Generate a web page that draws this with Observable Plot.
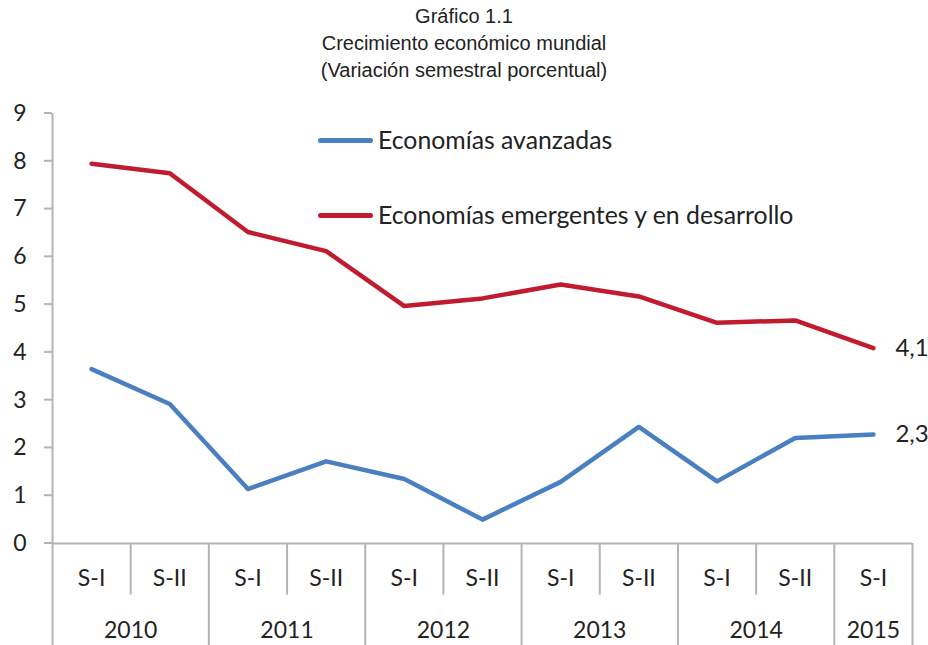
<!DOCTYPE html>
<html>
<head>
<meta charset="utf-8">
<script src="https://cdn.jsdelivr.net/npm/d3@7"></script>
<script src="https://cdn.jsdelivr.net/npm/@observablehq/plot@0.6"></script>
<style>
  html, body { margin: 0; padding: 0; background: #fff; }
  #wrap { position: relative; width: 928px; height: 645px; }
  #title { position: absolute; left: 0; top: 3px; width: 928px; text-align: center;
           font-family: "Liberation Sans", Arial, sans-serif; font-size: 20px; line-height: 27px; color: #222; }
  #chart { position: absolute; left: 0; top: 90px; }
  .leg { position: absolute; left: 318px; height: 30px; line-height: 30px; font-family: Lato, sans-serif; font-size: 24.8px; color: #222; display: flex; align-items: center; }
  .leg span.sw { display: inline-block; width: 55px; height: 5px; border-radius: 3px; margin-right: 5px; }
</style>
</head>
<body>
<div id="wrap">
  <div id="title">Gráfico 1.1<br>Crecimiento económico mundial<br>(Variación semestral porcentual)</div>
  <div id="chart"></div>
  <div class="leg" style="top:125px"><span class="sw" style="background:#4a7fc1"></span>Economías avanzadas</div>
  <div class="leg" style="top:200px"><span class="sw" style="background:#c01b2e"></span>Economías emergentes y en desarrollo</div>
</div>
<script>
const semesters = ["S-I","S-II","S-I","S-II","S-I","S-II","S-I","S-II","S-I","S-II","S-I"];
const years = ["2010","2010","2011","2011","2012","2012","2013","2013","2014","2014","2015"];
const advanced = [3.65, 2.92, 1.14, 1.72, 1.35, 0.50, 1.29, 2.44, 1.30, 2.21, 2.28];
const emerging = [7.95, 7.75, 6.52, 6.12, 4.97, 5.13, 5.42, 5.17, 4.62, 4.67, 4.09];
const endLabels = ["2,3", "4,1"];
const seriesNames = ["Economías avanzadas", "Economías emergentes y en desarrollo"];
const colors = ["#4a7fc1", "#c01b2e"];
const yTicks = [0,1,2,3,4,5,6,7,8,9];

const data = [];
semesters.forEach((s, i) => {
  data.push({i, v: advanced[i], series: seriesNames[0]});
  data.push({i, v: emerging[i], series: seriesNames[1]});
});
const n = semesters.length;
const last = [
  {i: n - 1, v: advanced[n - 1], label: endLabels[0]},
  {i: n - 1, v: emerging[n - 1], label: endLabels[1]}
];

const yearGroups = [];
years.forEach((y, i) => {
  const g = yearGroups.find(d => d.year === y);
  if (g) g.end = i; else yearGroups.push({year: y, start: i, end: i});
});
const yearBounds = [-0.5, ...yearGroups.map(g => g.end + 0.5)];
const innerBounds = [];
for (let i = 0; i < n - 1; i++) if (years[i] === years[i + 1]) innerBounds.push(i + 0.5);

const axisColor = "#b4b4b4";
const chart = Plot.plot({
  width: 928,
  height: 555,
  marginTop: 23,
  marginBottom: 102,
  marginLeft: 52,
  marginRight: 16,
  style: {fontFamily: "Lato, sans-serif", fontSize: "23px", color: "#222", background: "#fff", overflow: "visible"},
  x: {domain: [-0.5, n - 0.5], axis: null},
  y: {domain: [0, 9], ticks: yTicks, label: null, tickSize: 0},
  color: {domain: seriesNames, range: colors},
  marks: [
    Plot.axisY({ticks: yTicks, tickSize: 0, tickPadding: 26, label: null, fontSize: 23}),
    Plot.tickY(yTicks, {y: d => d,
      render: (index, scales, values, dims) => {
        const g = d3.create("svg:g");
        const x0 = dims.marginLeft;
        g.selectAll("line").data(index).join("line")
          .attr("x1", x0 - 8).attr("x2", x0).attr("y1", i => scales.y(yTicks[i])).attr("y2", i => scales.y(yTicks[i]))
          .attr("stroke", axisColor).attr("stroke-width", 2);
        return g.node();
      }}),
    Plot.ruleX([-0.5], {y1: 0, y2: 9, stroke: axisColor, strokeWidth: 2}),
    Plot.ruleY([0], {x1: -0.5, x2: n - 0.5, stroke: axisColor, strokeWidth: 2}),
    Plot.ruleX(yearBounds, {x: d => d, y1: 0, y2: -2.2, stroke: axisColor, strokeWidth: 2}),
    Plot.ruleX(innerBounds, {x: d => d, y1: 0, y2: -1.08, stroke: axisColor, strokeWidth: 2}),
    Plot.text(semesters, {x: (d, i) => i, y: -0.73, text: d => d, fontSize: 23, fill: "#222"}),
    Plot.text(yearGroups, {x: g => (g.start + g.end) / 2, y: -1.83, text: g => g.year, fontSize: 23, fill: "#222"}),
    Plot.line(data, {x: "i", y: "v", z: "series", stroke: "series", strokeWidth: 4.5, strokeLinecap: "round", strokeLinejoin: "round"}),
    Plot.text(last, {x: "i", y: "v", text: "label", dx: 22, textAnchor: "start", fontSize: 24, fill: "#222"})
  ]
});
document.getElementById("chart").appendChild(chart);
</script>
</body>
</html>
